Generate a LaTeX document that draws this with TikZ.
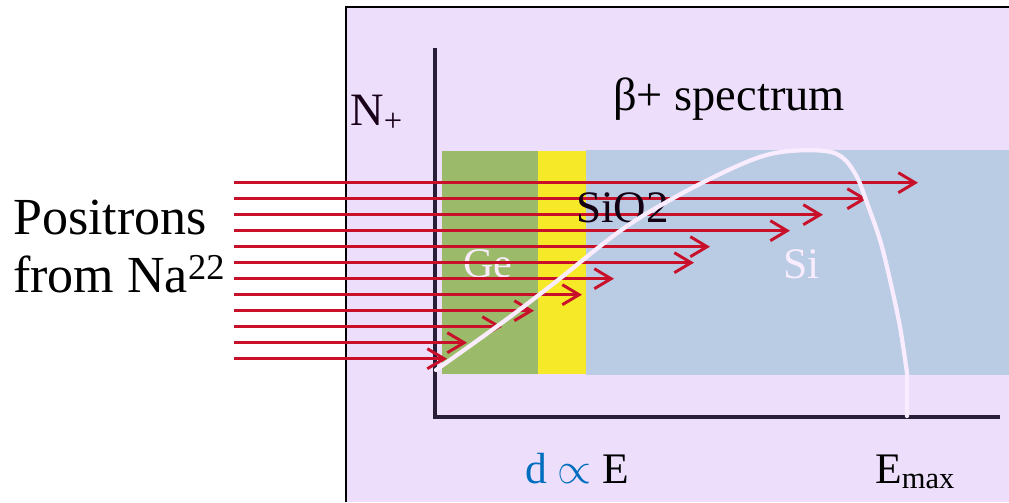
\documentclass[tikz,border=0pt]{standalone}
\usepackage{fontspec}
\setmainfont{Liberation Serif}
\usetikzlibrary{arrows.meta}
\definecolor{panelbg}{RGB}{237,222,252}
\definecolor{gecol}{RGB}{155,187,106}
\definecolor{oxcol}{RGB}{246,234,40}
\definecolor{sicol}{RGB}{186,204,228}
\definecolor{raycol}{RGB}{200,16,42}
\definecolor{axcol}{RGB}{40,30,55}
\definecolor{curvecol}{RGB}{250,236,255}
\definecolor{dcol}{RGB}{0,110,190}
\begin{document}
\begin{tikzpicture}[x=0.025cm, y=-0.025cm]
  \tikzstyle{ray}=[draw=raycol, line width=2.1pt, -{Straight Barb[length=0.42cm, width=0.5cm, line width=2.1pt]}]
  \tikzstyle{ax}=[draw=axcol, line width=2.9pt]
  \tikzstyle{lbl}=[font=\fontsize{32}{38}\selectfont, inner sep=0pt, anchor=base west]
  \useasboundingbox (0,0) rectangle (1009,502);

  % painel do espectro
  \fill[panelbg] (346,7) rectangle (1009,502);
  \draw[line width=1.6pt] (346,502) -- (346,7) -- (1009,7);

  % camadas Ge / SiO2 / Si
  \fill[gecol] (442,151) rectangle (538,374);
  \fill[oxcol] (538,151) rectangle (586,374);
  \fill[sicol] (586,150) rectangle (1009,375);
  \node[lbl, text=curvecol, font=\fontsize{30}{36}\selectfont] (ge) at (463,277) {Ge};
  \node[lbl, text=curvecol, font=\fontsize{31}{37}\selectfont] (si) at (783,278) {Si};

  % eixos
  \draw[ax] (435,48) -- (435,417) -- (1000,417);

  % feixe de positrons
  \foreach \i/\xe in {0/918, 1/867, 2/823, 3/790, 4/710, 5/694, 6/614, 7/582, 8/534, 9/502, 10/467, 11/447} {
    \coordinate (s\i) at (234,{182.7+16*\i});
    \coordinate (e\i) at (\xe,{182.7+16*\i});
    \draw[ray] (s\i) -- (e\i);
  }
  \node[lbl, text=black!85!violet] (ox) at (576,222) {SiO2};

  % curva do espectro beta+
  \draw[curvecol, line width=3pt, line cap=round] plot[smooth, tension=0.6] coordinates {
    (436,370) (503,322) (553,284) (620,231) (670,200) (720,174) (760,157)
    (790,151) (825,151) (843,158) (857,177) (867,203) (880,240) (890,280)
    (900,327) (907,373)} -- (907,416);

  % textos
  \node[lbl, font=\fontsize{37}{41}\selectfont] (pos) at (13,234) {Positrons};
  \node[lbl, font=\fontsize{37}{41}\selectfont] (na) at (13,292) {from Na\textsuperscript{22}};
  \node[lbl, text=black!80!violet, font=\fontsize{33}{38}\selectfont] (nplus) at (350,125) {N\textsubscript{+}};
  \node[lbl, font=\fontsize{33}{38}\selectfont] (title) at (613,110) {β+ spectrum};
  \node[lbl, font=\fontsize{31}{37}\selectfont] (dE) at (525,483) {\textcolor{dcol}{d \scalebox{1.25}{$\propto$}} E};
  \node[lbl, font=\fontsize{31}{37}\selectfont] (emax) at (875,483) {E\textsubscript{max}};
\end{tikzpicture}
\end{document}
